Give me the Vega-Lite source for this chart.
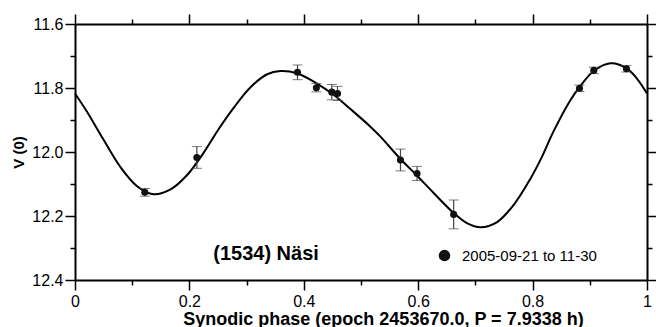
{
  "$schema": "https://vega.github.io/schema/vega-lite/v6.json",
  "width": 572,
  "height": 256,
  "autosize": {"type": "none"},
  "padding": {"left": 75, "top": 24, "right": 9, "bottom": 47},
  "background": "white",
  "config": {
    "view": {"stroke": null},
    "font": "Liberation Sans",
    "axis": {"grid": false, "domainColor": "black", "domainWidth": 2, "tickColor": "black", "tickWidth": 1.5, "labelColor": "black", "labelFont": "Liberation Sans", "labelFontSize": 16, "titleFont": "Liberation Sans", "titleColor": "black"}
  },
  "datasets": {
    "curve": [
      {"phase": 0.0, "mag": 11.817},
      {"phase": 0.021, "mag": 11.874},
      {"phase": 0.05, "mag": 11.962},
      {"phase": 0.079, "mag": 12.046},
      {"phase": 0.108, "mag": 12.106},
      {"phase": 0.137, "mag": 12.132},
      {"phase": 0.167, "mag": 12.117},
      {"phase": 0.196, "mag": 12.072},
      {"phase": 0.225, "mag": 12.002},
      {"phase": 0.251, "mag": 11.929},
      {"phase": 0.277, "mag": 11.863},
      {"phase": 0.306, "mag": 11.799},
      {"phase": 0.336, "mag": 11.757},
      {"phase": 0.359, "mag": 11.747},
      {"phase": 0.388, "mag": 11.754},
      {"phase": 0.423, "mag": 11.786},
      {"phase": 0.452, "mag": 11.821},
      {"phase": 0.481, "mag": 11.865},
      {"phase": 0.516, "mag": 11.92},
      {"phase": 0.534, "mag": 11.952},
      {"phase": 0.569, "mag": 12.022},
      {"phase": 0.598, "mag": 12.074},
      {"phase": 0.627, "mag": 12.128},
      {"phase": 0.661, "mag": 12.189},
      {"phase": 0.685, "mag": 12.222},
      {"phase": 0.709, "mag": 12.235},
      {"phase": 0.738, "mag": 12.219},
      {"phase": 0.767, "mag": 12.165},
      {"phase": 0.796, "mag": 12.084},
      {"phase": 0.815, "mag": 12.02},
      {"phase": 0.837, "mag": 11.934},
      {"phase": 0.866, "mag": 11.838},
      {"phase": 0.882, "mag": 11.797},
      {"phase": 0.907, "mag": 11.747},
      {"phase": 0.936, "mag": 11.723},
      {"phase": 0.964, "mag": 11.738},
      {"phase": 0.983, "mag": 11.772},
      {"phase": 1.0, "mag": 11.817}
    ],
    "obs": [
      {"phase": 0.122, "mag": 12.126, "lo": 12.114, "hi": 12.138, "session": "2005-09-21 to 11-30"},
      {"phase": 0.213, "mag": 12.017, "lo": 11.983, "hi": 12.051, "session": "2005-09-21 to 11-30"},
      {"phase": 0.389, "mag": 11.751, "lo": 11.728, "hi": 11.774, "session": "2005-09-21 to 11-30"},
      {"phase": 0.422, "mag": 11.799, "lo": 11.786, "hi": 11.812, "session": "2005-09-21 to 11-30"},
      {"phase": 0.449, "mag": 11.813, "lo": 11.789, "hi": 11.837, "session": "2005-09-21 to 11-30"},
      {"phase": 0.459, "mag": 11.817, "lo": 11.795, "hi": 11.839, "session": "2005-09-21 to 11-30"},
      {"phase": 0.569, "mag": 12.025, "lo": 11.991, "hi": 12.059, "session": "2005-09-21 to 11-30"},
      {"phase": 0.598, "mag": 12.067, "lo": 12.045, "hi": 12.089, "session": "2005-09-21 to 11-30"},
      {"phase": 0.662, "mag": 12.195, "lo": 12.15, "hi": 12.24, "session": "2005-09-21 to 11-30"},
      {"phase": 0.882, "mag": 11.801, "lo": 11.791, "hi": 11.811, "session": "2005-09-21 to 11-30"},
      {"phase": 0.907, "mag": 11.745, "lo": 11.735, "hi": 11.755, "session": "2005-09-21 to 11-30"},
      {"phase": 0.964, "mag": 11.74, "lo": 11.73, "hi": 11.75, "session": "2005-09-21 to 11-30"}
    ],
    "label": [{"name": "(1534) Näsi"}]
  },
  "resolve": {"axis": {"x": "independent", "y": "independent"}},
  "layer": [
    {
      "data": {"name": "curve"},
      "mark": {"type": "line", "color": "black", "strokeWidth": 2, "interpolate": "catmull-rom"},
      "encoding": {
        "x": {"field": "phase", "type": "quantitative", "scale": {"domain": [0, 1], "nice": false},
          "axis": {"orient": "bottom", "values": [0, 0.2, 0.4, 0.6, 0.8, 1], "format": "~g", "tickSize": 10, "labelPadding": 3, "labelFlush": false,
            "title": "Synodic phase (epoch 2453670.0, P = 7.9338 h)", "titleFontSize": 18, "titleFontWeight": "bold", "titleAlign": "center", "titleBaseline": "alphabetic", "titleX": 308, "titleY": 44}},
        "y": {"field": "mag", "type": "quantitative", "scale": {"domain": [11.6, 12.4], "nice": false, "zero": false, "reverse": true},
          "axis": {"orient": "left", "values": [11.6, 11.8, 12.0, 12.2, 12.4], "format": ".1f", "tickSize": 10, "labelPadding": 2, "labelFlush": false,
            "title": "V (0)", "titleFontSize": 15, "titleFontWeight": "bold", "titleAngle": -90, "titleAlign": "center", "titleBaseline": "alphabetic", "titleX": -52, "titleY": 128}}
      }
    },
    {
      "data": {"name": "curve"},
      "mark": {"type": "line", "opacity": 0},
      "encoding": {
        "x": {"field": "phase", "type": "quantitative", "axis": {"orient": "bottom", "values": [0.1, 0.3, 0.5, 0.7, 0.9], "tickSize": 5, "labels": false, "domain": false, "title": null}},
        "y": {"field": "mag", "type": "quantitative", "axis": {"orient": "left", "values": [11.7, 11.9, 12.1, 12.3], "tickSize": 5, "labels": false, "domain": false, "title": null}}
      }
    },
    {
      "data": {"name": "curve"},
      "mark": {"type": "line", "opacity": 0},
      "encoding": {
        "x": {"field": "phase", "type": "quantitative", "axis": {"orient": "top", "values": [0, 0.2, 0.4, 0.6, 0.8, 1], "tickSize": 10, "labels": false, "title": null}},
        "y": {"field": "mag", "type": "quantitative", "axis": {"orient": "right", "values": [11.6, 11.8, 12.0, 12.2, 12.4], "tickSize": 10, "labels": false, "title": null}}
      }
    },
    {
      "data": {"name": "curve"},
      "mark": {"type": "line", "opacity": 0},
      "encoding": {
        "x": {"field": "phase", "type": "quantitative", "axis": {"orient": "top", "values": [0.1, 0.3, 0.5, 0.7, 0.9], "tickSize": 5, "labels": false, "domain": false, "title": null}},
        "y": {"field": "mag", "type": "quantitative", "axis": {"orient": "right", "values": [11.7, 11.9, 12.1, 12.3], "tickSize": 5, "labels": false, "domain": false, "title": null}}
      }
    },
    {
      "data": {"name": "obs"},
      "mark": {"type": "errorbar", "ticks": {"size": 10, "color": "#444", "strokeWidth": 1.2}, "rule": {"color": "#444", "strokeWidth": 1.2}},
      "encoding": {
        "x": {"field": "phase", "type": "quantitative", "axis": null},
        "y": {"field": "lo", "type": "quantitative", "axis": null},
        "y2": {"field": "hi"}
      }
    },
    {
      "data": {"name": "obs"},
      "mark": {"type": "point", "filled": true, "shape": "circle", "size": 50, "opacity": 1},
      "encoding": {
        "x": {"field": "phase", "type": "quantitative", "axis": null},
        "y": {"field": "mag", "type": "quantitative", "axis": null},
        "color": {"field": "session", "type": "nominal", "scale": {"range": ["#111111"]},
          "legend": {"orient": "none", "legendX": 362, "legendY": 224, "title": null, "symbolType": "circle", "symbolSize": 135, "symbolFillColor": "black", "symbolStrokeWidth": 0, "labelFontSize": 15, "labelFont": "Liberation Sans", "labelColor": "black", "labelOffset": 10}}
      }
    },
    {
      "data": {"name": "label"},
      "mark": {"type": "text", "font": "Liberation Sans", "fontSize": 20, "fontWeight": "bold", "color": "black", "align": "center", "baseline": "middle"},
      "encoding": {
        "text": {"field": "name"},
        "x": {"datum": 0.334, "type": "quantitative", "axis": null},
        "y": {"datum": 12.32, "type": "quantitative", "axis": null}
      }
    }
  ]
}
